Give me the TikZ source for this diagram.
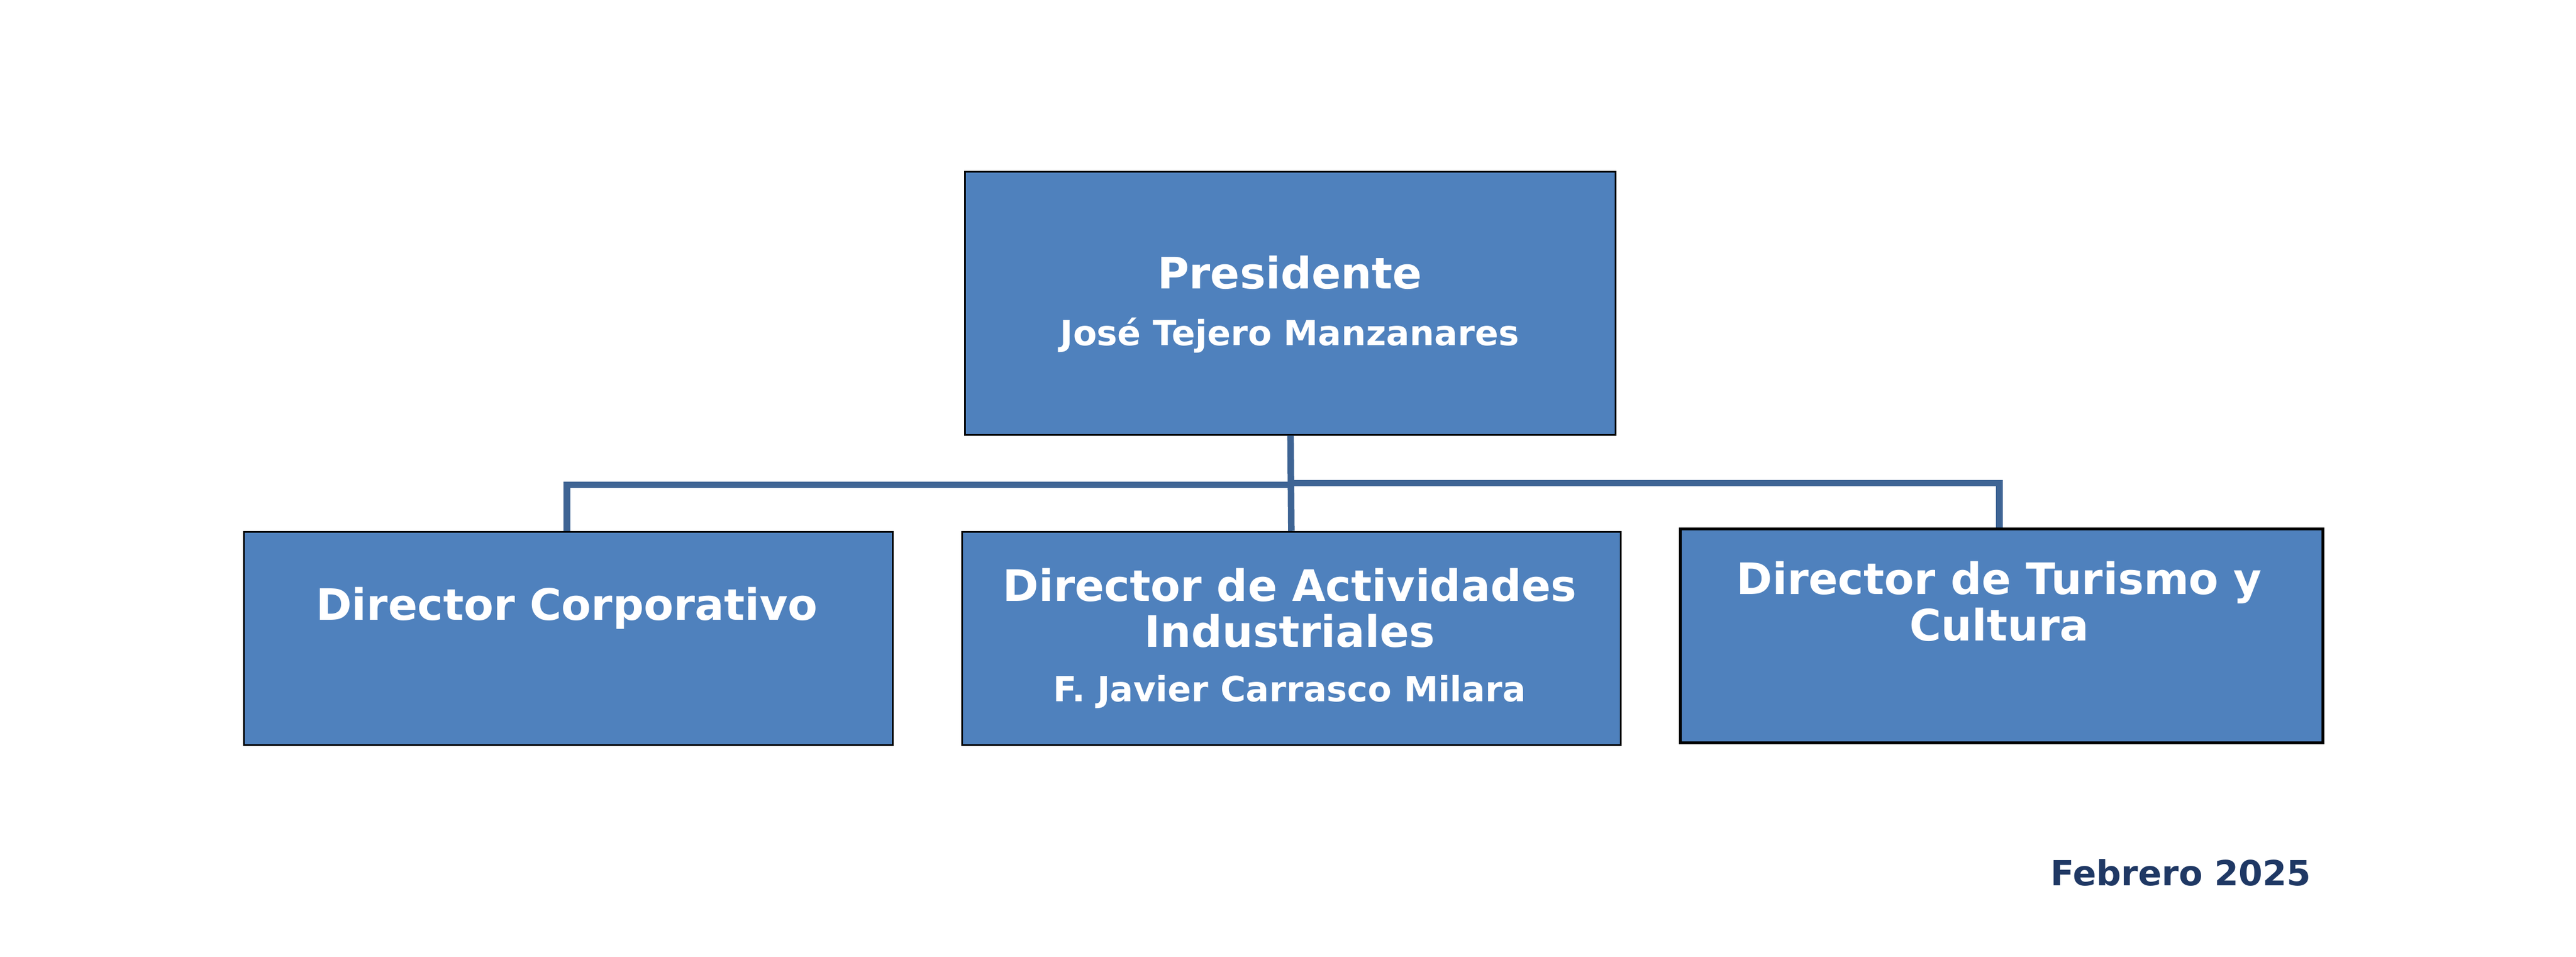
\documentclass[tikz,border=0pt]{standalone}
\usepackage{fontspec}
\setmainfont{DejaVu Sans}
\definecolor{boxblue}{HTML}{4F81BD}
\definecolor{linkblue}{HTML}{3E6494}
\definecolor{dateblue}{HTML}{1F3864}
\begin{document}
\begin{tikzpicture}[x=0.02cm,y=-0.02cm,
  orgbox/.style={draw=black,line width=0.6pt,fill=boxblue},
  big/.style={text=white,font=\fontsize{15}{18}\selectfont\bfseries,align=center},
  small/.style={text=white,font=\fontsize{12}{14}\selectfont\bfseries},
  link/.style={draw=linkblue,line width=0.08cm}]
\useasboundingbox (0,0) rectangle (1568,582);
\node[orgbox,minimum width=396*0.02cm,minimum height=160*0.02cm,anchor=north west] (pres) at (587,104) {};
\node[orgbox,minimum width=395*0.02cm,minimum height=130*0.02cm,anchor=north west] (corp) at (148,323) {};
\node[orgbox,minimum width=401*0.02cm,minimum height=130*0.02cm,anchor=north west] (ind) at (585,323) {};
\node[orgbox,line width=1pt,minimum width=391*0.02cm,minimum height=130*0.02cm,anchor=north west] (tur) at (1022,321) {};
\node[big] (t1) at (785,166) {Presidente};
\node[small] (t2) at (785,204) {José Tejero Manzanares};
\node[big] (t3) at (345,370) {Director Corporativo};
\node[big] (t4) at (785,370) {Director de Actividades\\[-2pt]Industriales};
\node[small] (t5) at (785,421) {F. Javier Carrasco Milara};
\node[big] (t6) at (1217,366) {Director de Turismo y\\[-2pt]Cultura};
\node[font=\fontsize{12}{14}\selectfont\bfseries,text=dateblue,anchor=east] (date) at (1413,531) {Febrero 2025};
\coordinate (j) at (785,295);
\draw[link] (pres.south) -- (ind.north);
\draw[link] (j) -- (345,295) -- (corp.north -| 345,0);
\draw[link] (785,294) -- (1217,294) -- (tur.north -| 1217,0);
\end{tikzpicture}
\end{document}
